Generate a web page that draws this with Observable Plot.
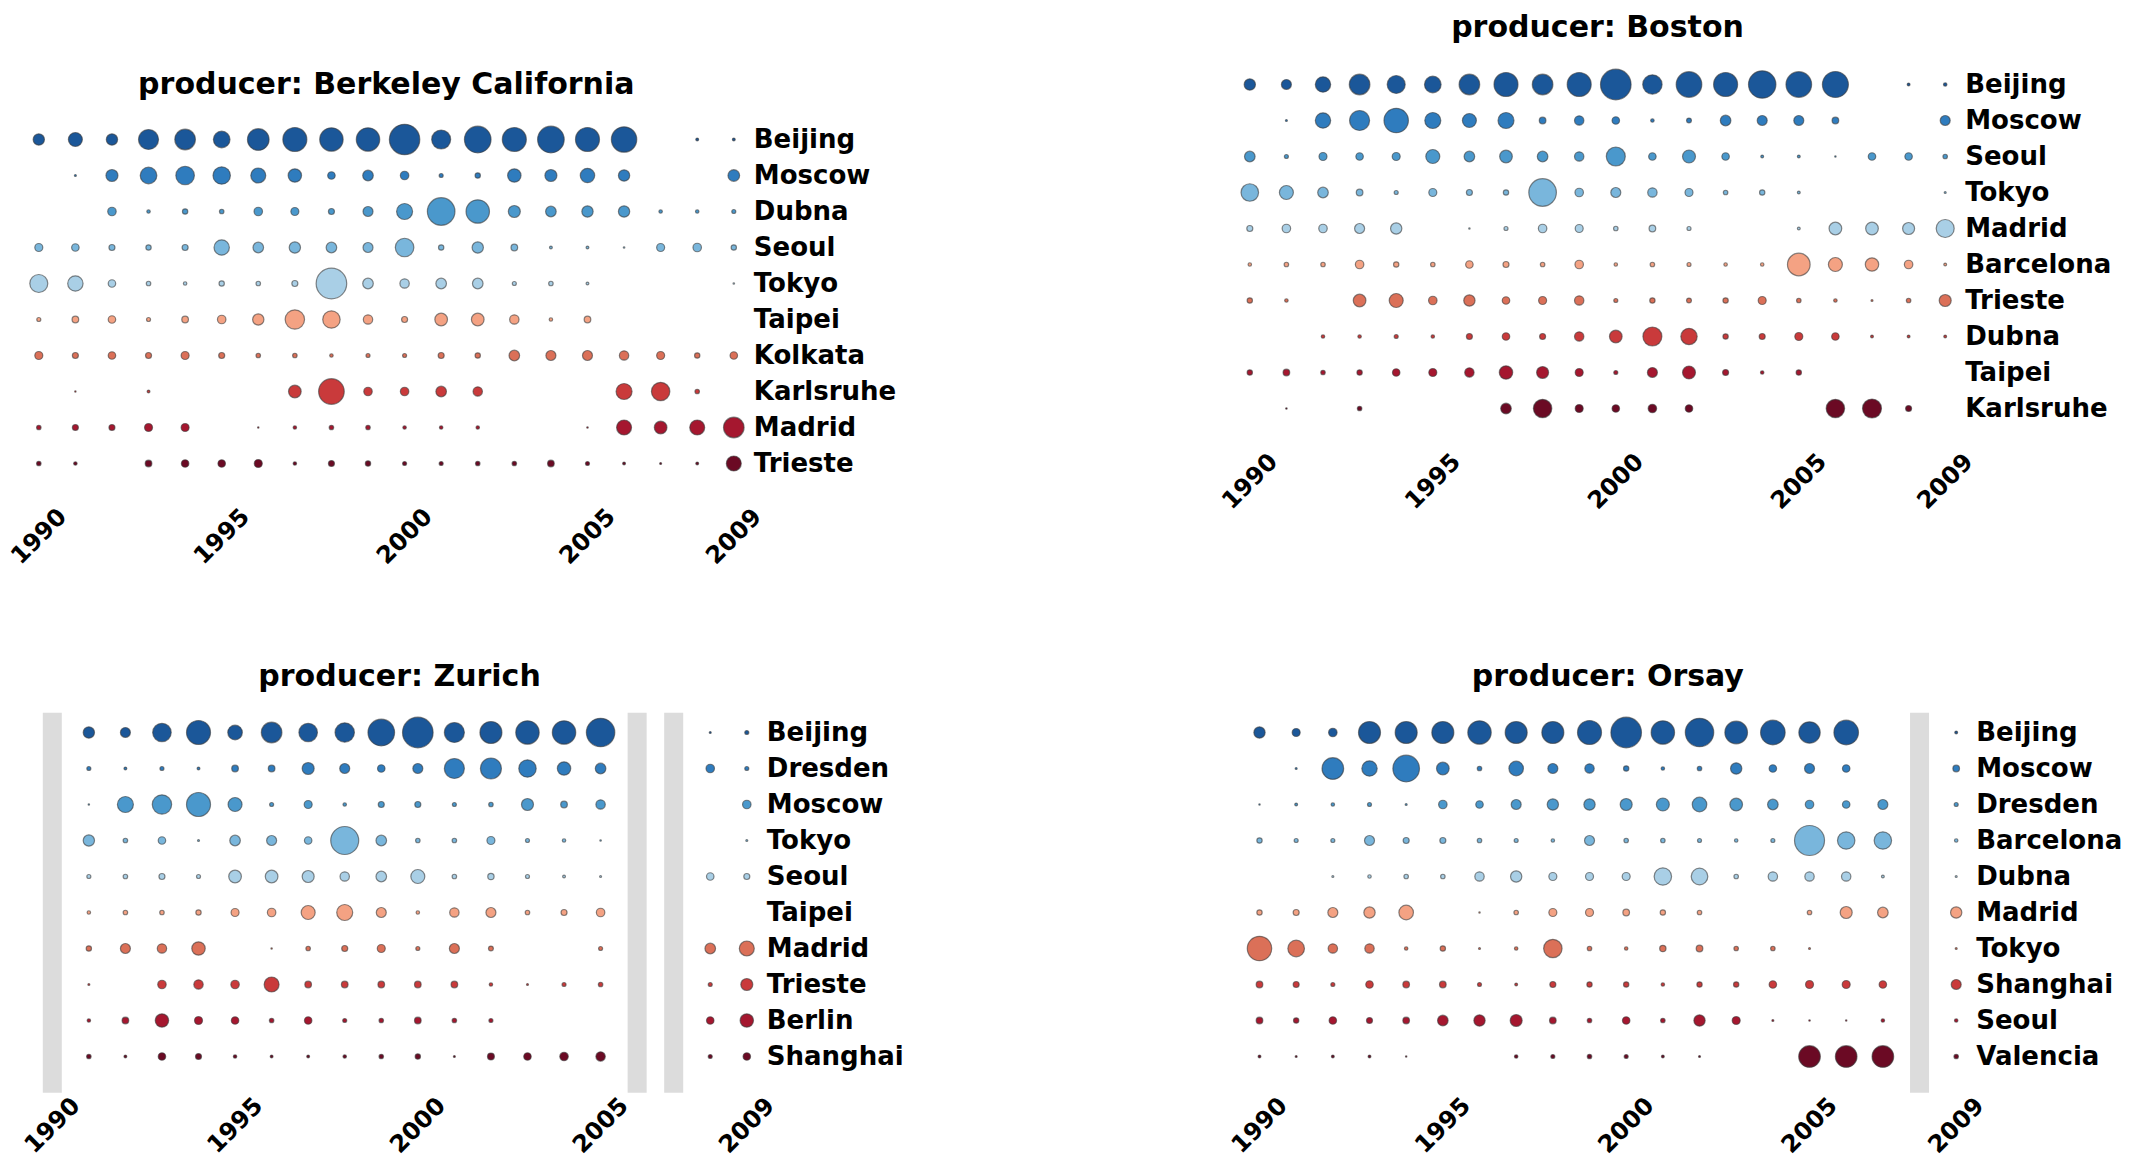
<!DOCTYPE html>
<html>
<head>
<meta charset="utf-8">
<script src="https://cdn.jsdelivr.net/npm/d3@7"></script>
<script src="https://cdn.jsdelivr.net/npm/@observablehq/plot@0.6"></script>
<style>
  html, body { margin: 0; padding: 0; background: #fff; }
  #chart { position: relative; width: 2129px; height: 1159px; overflow: hidden; background: #fff; }
</style>
</head>
<body>
<div id="chart"></div>
<script>
// Years on the x axis and the labelled ticks
const years = [1990, 1991, 1992, 1993, 1994, 1995, 1996, 1997, 1998, 1999,
               2000, 2001, 2002, 2003, 2004, 2005, 2006, 2007, 2008, 2009];
const yearTicks = [1990, 1995, 2000, 2005, 2009];

// Producer: Berkeley California
const berkeleyCities = ["Beijing", "Moscow", "Dubna", "Seoul", "Tokyo", "Taipei", "Kolkata", "Karlsruhe", "Madrid", "Trieste"];
const berkeleyValues = [
  [32, 49, 32, 100, 106, 69, 117, 144, 137, 137, 231, 90, 177, 144, 177, 144, 161, null, 2, 2],
  [null, 1, 36, 69, 86, 76, 56, 45, 14, 28, 18, 4, 7, 45, 36, 52, 32, null, null, 34],
  [null, null, 18, 3, 7, 5, 18, 16, 9, 25, 64, 190, 137, 36, 28, 32, 32, 3, 3, 4],
  [16, 14, 9, 7, 9, 59, 28, 32, 28, 25, 86, 7, 32, 11, 2, 2, 0.6, 16, 18, 7],
  [81, 59, 14, 5, 3, 7, 5, 9, 234, 28, 22, 28, 28, 4, 5, 2, null, null, null, 0.6],
  [4, 11, 14, 4, 11, 18, 32, 94, 76, 22, 9, 40, 40, 22, 3, 11, null, null, null, null],
  [16, 9, 14, 9, 16, 9, 5, 5, 3, 4, 4, 9, 7, 28, 25, 25, 22, 16, 7, 14],
  [null, 0.5, null, 2, null, null, null, 40, 164, 18, 18, 28, 22, null, null, null, 64, 85, 5, null],
  [5, 9, 9, 16, 16, null, 0.5, 3, 5, 5, 3, 3, 3, null, null, 0.6, 56, 40, 56, 106],
  [5, 3, null, 11, 14, 14, 16, 3, 9, 7, 4, 4, 5, 5, 11, 4, 2, 1, 2, 56]
];

// Producer: Boston
const bostonCities = ["Beijing", "Moscow", "Seoul", "Tokyo", "Madrid", "Barcelona", "Trieste", "Dubna", "Taipei", "Karlsruhe"];
const bostonValues = [
  [32, 25, 59, 106, 81, 69, 106, 144, 106, 144, 234, 94, 164, 144, 188, 164, 169, null, 2, 3],
  [null, 1, 59, 100, 149, 64, 49, 64, 11, 22, 14, 3, 6, 28, 25, 25, 11, null, null, 25],
  [28, 4, 16, 14, 16, 49, 28, 40, 28, 22, 90, 14, 42, 14, 2, 2, 0.5, 14, 14, 5],
  [77, 49, 28, 11, 4, 16, 9, 7, 190, 18, 25, 22, 16, 5, 7, 2, null, null, null, 1],
  [9, 18, 18, 25, 32, null, 0.5, 4, 18, 16, 5, 11, 4, null, null, 2, 40, 40, 36, 81],
  [3, 5, 5, 18, 7, 5, 14, 9, 5, 18, 3, 5, 4, 3, 3, 128, 49, 45, 18, 2],
  [7, 3, null, 40, 49, 18, 32, 14, 16, 22, 4, 7, 6, 7, 16, 5, 3, 1, 5, 36],
  [null, null, 3, 3, 4, 3, 9, 14, 9, 22, 40, 90, 67, 7, 9, 16, 14, 2, 2, 2],
  [7, 11, 5, 7, 14, 16, 22, 45, 36, 16, 4, 25, 42, 9, 3, 7, null, null, null, null],
  [null, 0.6, null, 5, null, null, null, 28, 85, 16, 14, 18, 14, null, null, null, 85, 90, 9, null]
];

// Producer: Zurich (no data in the shaded years)
const zurichCities = ["Beijing", "Dresden", "Moscow", "Tokyo", "Seoul", "Taipei", "Madrid", "Trieste", "Berlin", "Shanghai"];
const zurichGapYears = [1990, 2006, 2007];
const zurichValues = [
  [null, 32, 25, 86, 144, 53, 106, 86, 94, 177, 234, 100, 121, 137, 137, 202, null, null, 1, 4],
  [null, 4, 2, 4, 2, 11, 11, 36, 25, 14, 25, 100, 110, 76, 45, 28, null, null, 18, 4],
  [null, 0.5, 64, 94, 144, 49, 4, 16, 3, 9, 9, 4, 5, 36, 11, 22, null, null, null, 18],
  [null, 32, 5, 14, 1, 28, 25, 14, 196, 28, 5, 5, 16, 4, 3, 0.6, null, null, null, 1],
  [null, 4, 5, 9, 4, 40, 40, 36, 22, 28, 49, 5, 10, 4, 2, 1, null, null, 14, 9],
  [null, 3, 5, 5, 7, 16, 18, 49, 64, 25, 3, 22, 25, 5, 9, 18, null, null, null, null],
  [null, 7, 25, 22, 45, null, 0.5, 5, 9, 16, 4, 25, 6, null, null, 4, null, null, 28, 56],
  [null, 1, null, 18, 22, 18, 56, 11, 11, 11, 11, 11, 3, 1, 4, 5, null, null, 4, 36],
  [null, 3, 11, 45, 16, 14, 5, 14, 4, 5, 11, 5, 4, null, null, null, null, null, 14, 45],
  [null, 5, 2, 14, 9, 3, 2, 2, 3, 5, 7, 1, 12, 14, 18, 22, null, null, 4, 14]
];

// Producer: Orsay (no data in the shaded year)
const orsayCities = ["Beijing", "Moscow", "Dresden", "Barcelona", "Dubna", "Madrid", "Tokyo", "Shanghai", "Seoul", "Valencia"];
const orsayGapYears = [2008];
const orsayValues = [
  [32, 16, 18, 121, 121, 121, 137, 121, 121, 144, 234, 137, 202, 128, 151, 114, 151, null, null, 2],
  [null, 1, 117, 59, 177, 40, 5, 53, 25, 22, 7, 3, 5, 32, 14, 25, 14, null, null, 11],
  [0.5, 2, 3, 4, 1, 18, 14, 25, 32, 32, 36, 42, 53, 40, 28, 18, 14, 25, null, 4],
  [7, 4, 4, 25, 9, 9, 5, 4, 3, 25, 5, 5, 4, 3, 4, 225, 76, 76, null, 3],
  [null, null, 1, 3, 5, 5, 22, 32, 16, 16, 16, 76, 69, 5, 22, 22, 22, 2, null, 1],
  [7, 9, 25, 32, 53, null, 0.5, 5, 16, 16, 11, 7, 5, null, null, 5, 36, 28, null, 32],
  [149, 69, 22, 22, 3, 7, 1, 3, 85, 5, 3, 10, 11, 5, 5, 1, null, null, null, 1],
  [11, 9, 4, 14, 11, 11, 4, 2, 9, 7, 7, 3, 7, 7, 14, 16, 16, 14, null, 25],
  [11, 7, 14, 9, 11, 28, 32, 36, 11, 5, 14, 5, 32, 16, 1, 0.6, 0.5, 3, null, 3],
  [2, 1, 2, 2, 0.5, null, null, 3, 4, 5, 4, 2, 1, null, null, 117, 117, 117, null, 5]
];

// Row colours, top (blue) to bottom (dark red)
const rowColors = ["#1b5799", "#2f7cbe", "#4a98cc", "#79b6dc", "#a9cfe6",
                   "#f4a283", "#db7058", "#c93a3b", "#a5172f", "#6b0a24"];

function tidy(cities, values) {
  return cities.flatMap((city, i) =>
    years.map((year, j) => ({city, year, value: values[i][j]}))
  ).filter(d => d.value != null);
}

// Page layout for the four panels (svg boxes and frame geometry in page pixels)
const layout = [
  {title: "producer: Berkeley California", cities: berkeleyCities, values: berkeleyValues, gaps: [],
   box: {x: 0, y: 0, w: 1064, h: 590}, x0: 38.3, x1: 733.3, y0: 138.3, y1: 463.3, titleY: 84, tickY: 536},
  {title: "producer: Boston", cities: bostonCities, values: bostonValues, gaps: [],
   box: {x: 1064, y: 0, w: 1065, h: 590}, x0: 1249.3, x1: 1944.7, y0: 83.3, y1: 409, titleY: 27, tickY: 481},
  {title: "producer: Zurich", cities: zurichCities, values: zurichValues, gaps: zurichGapYears,
   box: {x: 0, y: 590, w: 1064, h: 569}, x0: 51.8, x1: 746.3, y0: 731.7, y1: 1056.7, titleY: 676, tickY: 1125},
  {title: "producer: Orsay", cities: orsayCities, values: orsayValues, gaps: orsayGapYears,
   box: {x: 1064, y: 590, w: 1065, h: 569}, x0: 1259, x1: 1955.7, y0: 731.7, y1: 1056.7, titleY: 676, tickY: 1125}
];

const padTop = 19, padBottom = 36;
const chart = document.getElementById("chart");

for (const p of layout) {
  const frameTop = p.y0 - padTop;
  const frameBottom = p.y1 + padBottom;
  const svg = Plot.plot({
    width: p.box.w,
    height: p.box.h,
    marginLeft: p.x0 - p.box.x,
    marginRight: p.box.x + p.box.w - p.x1,
    marginTop: frameTop - p.box.y,
    marginBottom: p.box.y + p.box.h - frameBottom,
    style: {
      position: "absolute",
      left: p.box.x + "px",
      top: p.box.y + "px",
      background: "transparent",
      overflow: "visible",
      fontFamily: "'DejaVu Sans', sans-serif",
      fontWeight: "bold",
      color: "#000",
      maxWidth: "none"
    },
    x: {type: "linear", domain: [1990, 2009], axis: null},
    y: {type: "point", domain: p.cities, padding: 0, insetTop: padTop, insetBottom: padBottom, label: null},
    r: {type: "sqrt", domain: [0, 225], range: [0, 15]},
    color: {type: "ordinal", domain: p.cities, range: rowColors},
    marks: [
      Plot.ruleX(p.gaps, {stroke: "#dcdcdc", strokeWidth: 19}),
      Plot.dot(tidy(p.cities, p.values), {
        x: "year", y: "city", r: "value", fill: "city",
        stroke: "#3a3a3a", strokeOpacity: 0.6, strokeWidth: 1.2
      }),
      Plot.axisY({anchor: "right", tickSize: 0, tickPadding: 20, fontSize: 26, fontWeight: "bold", label: null}),
      Plot.text(yearTicks, {
        x: d => d, text: d => String(d), frameAnchor: "bottom", dy: p.tickY - frameBottom,
        rotate: -45, textAnchor: "middle", lineAnchor: "middle", fontSize: 24, fontWeight: "bold"
      }),
      Plot.text([p.title], {
        frameAnchor: "top", dy: p.titleY - frameTop, lineAnchor: "middle",
        fontSize: 30, fontWeight: "bold"
      })
    ]
  });
  chart.appendChild(svg);
}
</script>
</body>
</html>
